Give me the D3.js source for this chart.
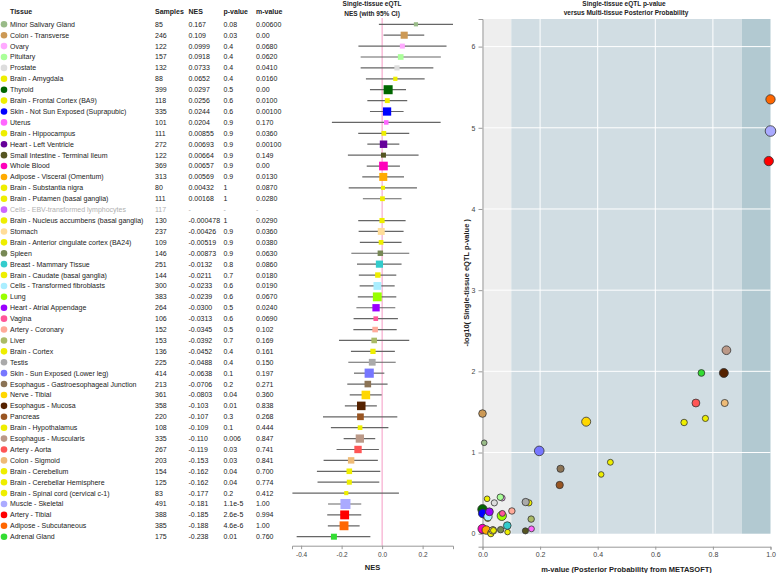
<!DOCTYPE html>
<html>
<head>
<meta charset="utf-8">
<script src="https://cdn.jsdelivr.net/npm/d3@7"></script>
<style>
  body { margin:0; background:#fff; }
  text { font-family: "Liberation Sans", Arial, sans-serif; }
</style>
</head>
<body>
<svg id="chart" width="778" height="573"></svg>
<script>
var tissues = ['Minor Salivary Gland','Colon - Transverse','Ovary','Pituitary','Prostate','Brain - Amygdala','Thyroid',
  'Brain - Frontal Cortex (BA9)','Skin - Not Sun Exposed (Suprapubic)','Uterus','Brain - Hippocampus','Heart - Left Ventricle',
  'Small Intestine - Terminal Ileum','Whole Blood','Adipose - Visceral (Omentum)','Brain - Substantia nigra',
  'Brain - Putamen (basal ganglia)','Cells - EBV-transformed lymphocytes','Brain - Nucleus accumbens (basal ganglia)','Stomach',
  'Brain - Anterior cingulate cortex (BA24)','Spleen','Breast - Mammary Tissue','Brain - Caudate (basal ganglia)',
  'Cells - Transformed fibroblasts','Lung','Heart - Atrial Appendage','Vagina','Artery - Coronary','Liver','Brain - Cortex',
  'Testis','Skin - Sun Exposed (Lower leg)','Esophagus - Gastroesophageal Junction','Nerve - Tibial','Esophagus - Mucosa',
  'Pancreas','Brain - Hypothalamus','Esophagus - Muscularis','Artery - Aorta','Colon - Sigmoid','Brain - Cerebellum',
  'Brain - Cerebellar Hemisphere','Brain - Spinal cord (cervical c-1)','Muscle - Skeletal','Artery - Tibial',
  'Adipose - Subcutaneous','Adrenal Gland'];

var samples = [85,246,122,157,132,88,399,118,335,101,111,272,122,369,313,80,111,117,130,237,109,146,251,144,300,383,264,106,
  152,153,136,225,414,213,361,358,220,108,335,267,203,154,125,83,491,388,385,175];

var nes = [0.167,0.109,0.0999,0.0918,0.0733,0.0652,0.0297,0.0256,0.0244,0.0204,0.00855,0.00693,0.00664,0.00657,0.00569,
  0.00432,0.00168,null,-0.000478,-0.00426,-0.00519,-0.00873,-0.0132,-0.0211,-0.0233,-0.0239,-0.0300,-0.0313,-0.0345,
  -0.0392,-0.0452,-0.0488,-0.0638,-0.0706,-0.0803,-0.103,-0.107,-0.109,-0.110,-0.119,-0.153,-0.162,-0.162,-0.177,-0.181,
  -0.185,-0.188,-0.238];

var pValues = [0.08,0.03,0.4,0.4,0.4,0.4,0.5,0.6,0.6,0.9,0.9,0.9,0.9,0.9,0.9,1,1,null,1,0.9,0.9,0.9,0.8,0.7,0.6,0.6,0.5,
  0.6,0.5,0.7,0.4,0.4,0.1,0.2,0.04,0.01,0.3,0.1,0.006,0.03,0.03,0.04,0.04,0.2,1.1e-5,2.6e-5,4.6e-6,0.01];

var mValues = [0.006,0,0.068,0.062,0.041,0.016,0,0.01,0.001,0.17,0.036,0.001,0.149,0,0.013,0.087,0.028,null,0.029,0.036,
  0.038,0.063,0.086,0.018,0.019,0.067,0.024,0.069,0.102,0.169,0.161,0.15,0.197,0.271,0.36,0.838,0.268,0.444,0.847,0.741,
  0.841,0.7,0.774,0.412,1.0,0.994,1.0,0.76];

// 95% CI ends
var ciLow = [-0.016,0.007,-0.117,-0.106,-0.106,-0.080,-0.060,-0.073,-0.060,-0.248,-0.118,-0.073,-0.169,-0.076,-0.098,
  -0.165,-0.095,null,-0.118,-0.116,-0.110,-0.152,-0.124,-0.115,-0.111,-0.120,-0.127,-0.141,-0.142,-0.213,-0.154,-0.167,
  -0.139,-0.172,-0.160,-0.184,-0.292,-0.253,-0.190,-0.225,-0.289,-0.322,-0.319,-0.443,-0.267,-0.271,-0.268,-0.422];
var ciHigh = [0.350,0.208,0.318,0.290,0.253,0.210,0.118,0.124,0.106,0.289,0.134,0.085,0.180,0.088,0.108,0.172,0.096,null,
  0.116,0.106,0.096,0.134,0.096,0.070,0.062,0.070,0.065,0.078,0.072,0.134,0.063,0.067,0.011,0.027,-0.002,-0.026,0.075,
  0.031,-0.034,-0.016,-0.021,-0.009,-0.014,0.083,-0.103,-0.103,-0.111,-0.058];

// -log10(p) as plotted in the scatter
var negLogP = [1.12,1.48,0.44,0.45,0.38,0.43,0.30,0.22,0.25,0.06,0.05,0.05,0.035,0.06,0.045,0.02,0.01,null,0.0,0.04,0.04,
  0.05,0.10,0.19,0.21,0.22,0.27,0.25,0.28,0.18,0.38,0.39,1.02,0.80,1.38,1.98,0.60,0.88,2.26,1.61,1.61,1.37,1.42,0.73,4.96,
  4.59,5.35,1.98];

var tissueColors = ['#99BB88','#CC9955','#FFAAFF','#AAFF99','#DDDDDD','#EEEE00','#006600','#EEEE00','#0000FF','#FF66FF',
  '#EEEE00','#660099','#555522','#FF00BB','#FFAA00','#EEEE00','#EEEE00','#CC66FF','#EEEE00','#FFDD99','#EEEE00','#778855',
  '#33CCCC','#EEEE00','#AAEEFF','#99FF00','#9900FF','#FF5599','#FFAA99','#AABB66','#EEEE00','#AAAAAA','#7777FF','#8B7355',
  '#FFD700','#552200','#995522','#EEEE00','#BB9988','#FF5555','#EEBB77','#EEEE00','#EEEE00','#EEEE00','#AAAAFF','#FF0000',
  '#FF6600','#33DD33'];

var nesTicks = [-0.4,-0.2,0.0,0.2];
var mTicks = [0,0.2,0.4,0.6,0.8,1.0];
var pTicks = [0,1,2,3,4,5,6];

var rows = tissues.map(function(t,i){
  return {t:t, n:samples[i], nes:nes[i], p:pValues[i], m:mValues[i], lo:ciLow[i], hi:ciHigh[i],
          lp:negLogP[i], c:tissueColors[i], na: nes[i]===null};
});

function fmtP(p){ if(p===null) return '-'; return p < 0.001 ? p.toExponential(1) : p.toPrecision(1); }
function fmtM(m){ if(m===null) return '-'; return m===0 ? '0.00' : m.toPrecision(3); }
function fmtN(v){ return v===null ? '-' : v.toPrecision(3); }

var svg = d3.select('#chart');
var y = d3.scalePoint().domain(tissues).range([24.3, 536.7]);

// ---------- table ----------
var tbl = svg.append('g').attr('font-size', 7);
var cols = [{k:'Tissue',x:10},{k:'Samples',x:155},{k:'NES',x:188.5},{k:'p-value',x:223.5},{k:'m-value',x:256}];
tbl.selectAll('text.head').data(cols).enter().append('text')
  .attr('class','head').attr('x',function(d){return d.x;}).attr('y',11.7).attr('dy','0.35em')
  .attr('font-weight','bold').attr('fill','#222').text(function(d){return d.k;});

var tr = tbl.selectAll('g.row').data(rows).enter().append('g')
  .attr('class','row').attr('transform',function(d){ return 'translate(0,'+y(d.t)+')'; });
tr.append('circle').attr('cx',4).attr('cy',0).attr('r',3.3).attr('fill',function(d){return d.c;});
var cells = [
  {x:10, f:function(d){return d.t;}},
  {x:155, f:function(d){return d.n;}},
  {x:188.5, f:function(d){return fmtN(d.nes);}},
  {x:223.5, f:function(d){return fmtP(d.p);}},
  {x:256, f:function(d){return fmtM(d.m);}}
];
cells.forEach(function(c){
  tr.append('text').attr('x',c.x).attr('dy','0.35em')
    .attr('fill',function(d){ return d.na ? '#b0b0b0' : '#222'; })
    .text(c.f);
});

// ---------- forest plot ----------
var fx = d3.scaleLinear().domain([-0.445, 0.35]).range([292, 453]);
var side = d3.scaleSqrt().domain([0, 491]).range([0, 10]);
var fp = svg.append('g');

fp.append('text').attr('x',372).attr('y',4).attr('dy','0.35em').attr('text-anchor','middle')
  .attr('font-size',6.5).attr('font-weight','bold').attr('fill','#222').text('Single-tissue eQTL');
fp.append('text').attr('x',372).attr('y',13.3).attr('dy','0.35em').attr('text-anchor','middle')
  .attr('font-size',6.5).attr('font-weight','bold').attr('fill','#222').text('NES (with 95% CI)');

fp.append('line').attr('x1',fx(0)).attr('x2',fx(0)).attr('y1',18).attr('y2',545.7)
  .attr('stroke','#f59ac4').attr('stroke-width',1);

var valid = rows.filter(function(d){ return !d.na; });
fp.selectAll('line.ci').data(valid).enter().append('line').attr('class','ci')
  .attr('x1',function(d){return fx(d.lo);}).attr('x2',function(d){return fx(d.hi);})
  .attr('y1',function(d){return y(d.t);}).attr('y2',function(d){return y(d.t);})
  .attr('stroke','#666').attr('stroke-width',1.2);
fp.selectAll('rect.sq').data(valid).enter().append('rect').attr('class','sq')
  .attr('x',function(d){return fx(d.nes)-side(d.n)/2;})
  .attr('y',function(d){return y(d.t)-side(d.n)/2;})
  .attr('width',function(d){return side(d.n);}).attr('height',function(d){return side(d.n);})
  .attr('fill',function(d){return d.c;});

var fax = fp.append('g').attr('transform','translate(0,545.7)')
  .call(d3.axisBottom(fx).tickValues(nesTicks).tickSize(3.5).tickPadding(3)
        .tickFormat(function(d){ return d.toFixed(1); }));
fax.selectAll('path,line').attr('stroke','#999');
fax.selectAll('text').attr('font-size',6.5).attr('fill','#444').attr('font-family','"Liberation Sans", Arial, sans-serif');
fp.append('text').attr('x',372.5).attr('y',567.5).attr('dy','0.35em').attr('text-anchor','middle')
  .attr('font-size',7.5).attr('font-weight','bold').attr('fill','#222').text('NES');

// ---------- scatter ----------
var sx = d3.scaleLinear().domain([0, 1]).range([482.5, 770.5]);
var sy = d3.scaleLinear().domain([-0.16, 6.34]).range([546.7, 19]);
var rad = d3.scaleLinear().domain([80, 491]).range([2.8, 5.3]);
var sc = svg.append('g');

sc.append('text').attr('x',624).attr('y',4).attr('dy','0.35em').attr('text-anchor','middle')
  .attr('font-size',6.5).attr('font-weight','bold').attr('fill','#222').text('Single-tissue eQTL p-value');
sc.append('text').attr('x',626).attr('y',12.8).attr('dy','0.35em').attr('text-anchor','middle')
  .attr('font-size',6.5).attr('font-weight','bold').attr('fill','#222').text('versus Multi-tissue Posterior Probability');

var bands = [{a:0,b:0.1,c:'#eeeeee'},{a:0.1,b:0.9,c:'#d1dde3'},{a:0.9,b:1.0,c:'#b2c9d1'}];
sc.selectAll('rect.band').data(bands).enter().append('rect').attr('class','band')
  .attr('x',function(d){return sx(d.a);}).attr('width',function(d){return sx(d.b)-sx(d.a);})
  .attr('y',sy(6.34)).attr('height',sy(0)-sy(6.34)).attr('fill',function(d){return d.c;});

sc.selectAll('line.gx').data([0.2,0.4,0.6,0.8]).enter().append('line').attr('class','gx')
  .attr('x1',sx).attr('x2',sx).attr('y1',sy(6.34)).attr('y2',sy(0))
  .attr('stroke','#fff').attr('stroke-width',1);
sc.selectAll('line.gy').data(pTicks.slice(1)).enter().append('line').attr('class','gy')
  .attr('x1',sx(0)).attr('x2',sx(1)).attr('y1',sy).attr('y2',sy)
  .attr('stroke','#fff').attr('stroke-width',1);

var xa = sc.append('g').attr('transform','translate(0,546.7)')
  .call(d3.axisBottom(sx).tickValues(mTicks).tickSize(3).tickPadding(2.5)
        .tickFormat(function(d){ return d.toFixed(1); }));
var ya = sc.append('g').attr('transform','translate(482.5,0)')
  .call(d3.axisLeft(sy).tickValues(pTicks).tickSize(4).tickPadding(3).tickFormat(d3.format('d')));
[xa, ya].forEach(function(a){
  a.selectAll('path,line').attr('stroke','#999');
  a.selectAll('text').attr('font-size',7).attr('fill','#444').attr('font-family','"Liberation Sans", Arial, sans-serif');
});

sc.selectAll('circle.pt').data(valid).enter().append('circle').attr('class','pt')
  .attr('cx',function(d){return sx(d.m);}).attr('cy',function(d){return sy(d.lp);})
  .attr('r',function(d){return rad(d.n);})
  .attr('fill',function(d){return d.c;}).attr('stroke','#333').attr('stroke-width',0.8);

sc.append('text').attr('x',626.5).attr('y',569).attr('dy','0.35em').attr('text-anchor','middle')
  .attr('font-size',7.5).attr('font-weight','bold').attr('fill','#222')
  .text('m-value (Posterior Probability from METASOFT)');
sc.append('text').attr('transform','translate(466,282.8) rotate(-90)').attr('dy','0.35em')
  .attr('text-anchor','middle').attr('font-size',7.5).attr('font-weight','bold').attr('fill','#222')
  .text('-log10( Single-tissue eQTL p-value )');
</script>
</body>
</html>
